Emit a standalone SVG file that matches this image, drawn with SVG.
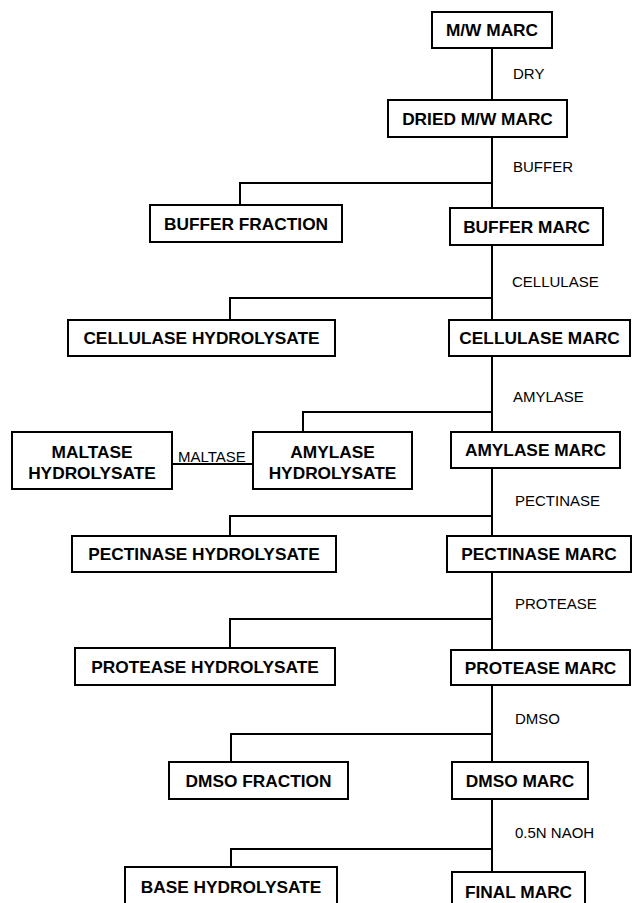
<svg xmlns="http://www.w3.org/2000/svg" width="634" height="903" viewBox="0 0 634 903">
<style>
.box{fill:#fff;stroke:#000;stroke-width:2}
.nt{font-family:"Liberation Sans",Arial,Helvetica,sans-serif;font-weight:bold;font-size:17.3px;text-anchor:middle;fill:#000}
.lb{font-family:"Liberation Sans",Arial,Helvetica,sans-serif;font-size:15px;fill:#000}
.ln{fill:none;stroke:#000;stroke-width:2}
</style>
<rect width="634" height="903" fill="#fff"/>
<g id="connectors">
<path class="ln" d="M492,48V100 M492,137V208 M492,245V320 M492,356V432 M492,468V536 M492,572V650 M492,685V762 M492,799V872"/>
<path class="ln" d="M492,183H240V205 M492,298H230V320 M492,412H303V432 M492,516H230V536 M492,619H230V648 M492,734H231V762 M492,849H231V867"/>
<path class="ln" d="M172,464H253"/>
<text class="lb" x="513" y="79">DRY</text>
<text class="lb" x="513" y="172">BUFFER</text>
<text class="lb" x="512" y="287">CELLULASE</text>
<text class="lb" x="513" y="402">AMYLASE</text>
<text class="lb" x="515" y="506">PECTINASE</text>
<text class="lb" x="515" y="609">PROTEASE</text>
<text class="lb" x="515" y="724">DMSO</text>
<text class="lb" x="515" y="838">0.5N NAOH</text>
<text class="lb" x="178" y="462">MALTASE</text>
</g>
<g id="mw-marc"><rect class="box" x="432" y="12" width="120" height="36"/><text class="nt" x="492" y="36.2">M/W MARC</text></g>
<g id="dried-mw-marc"><rect class="box" x="388" y="100" width="179" height="37"/><text class="nt" x="477.5" y="124.7">DRIED M/W MARC</text></g>
<g id="buffer-fraction"><rect class="box" x="150" y="205" width="192" height="37"/><text class="nt" x="246" y="229.8">BUFFER FRACTION</text></g>
<g id="buffer-marc"><rect class="box" x="450" y="208" width="153" height="37"/><text class="nt" x="526.5" y="232.8">BUFFER MARC</text></g>
<g id="cellulase-hydrolysate"><rect class="box" x="68" y="320" width="267" height="36"/><text class="nt" x="201.5" y="344.3">CELLULASE HYDROLYSATE</text></g>
<g id="cellulase-marc"><rect class="box" x="449" y="320" width="181" height="36"/><text class="nt" x="539.5" y="344.3">CELLULASE MARC</text></g>
<g id="maltase-hydrolysate"><rect class="box" x="12" y="432" width="160" height="57"/><text class="nt" x="92" y="458.3">MALTASE</text><text class="nt" x="92" y="479">HYDROLYSATE</text></g>
<g id="amylase-hydrolysate"><rect class="box" x="253" y="432" width="159" height="57"/><text class="nt" x="332.5" y="458.3">AMYLASE</text><text class="nt" x="332.5" y="479">HYDROLYSATE</text></g>
<g id="amylase-marc"><rect class="box" x="451" y="432" width="169" height="36"/><text class="nt" x="535.5" y="456.3">AMYLASE MARC</text></g>
<g id="pectinase-hydrolysate"><rect class="box" x="72" y="536" width="264" height="36"/><text class="nt" x="204" y="560.3">PECTINASE HYDROLYSATE</text></g>
<g id="pectinase-marc"><rect class="box" x="447" y="536" width="184" height="36"/><text class="nt" x="539" y="560.3">PECTINASE MARC</text></g>
<g id="protease-hydrolysate"><rect class="box" x="75" y="648" width="260" height="37"/><text class="nt" x="205" y="672.8">PROTEASE HYDROLYSATE</text></g>
<g id="protease-marc"><rect class="box" x="451" y="650" width="179" height="35"/><text class="nt" x="540.5" y="673.8">PROTEASE MARC</text></g>
<g id="dmso-fraction"><rect class="box" x="169" y="762" width="179" height="37"/><text class="nt" x="258.5" y="786.8">DMSO FRACTION</text></g>
<g id="dmso-marc"><rect class="box" x="452" y="762" width="136" height="37"/><text class="nt" x="520" y="786.8">DMSO MARC</text></g>
<g id="base-hydrolysate"><rect class="box" x="125" y="867" width="212" height="42"/><text class="nt" x="231" y="893">BASE HYDROLYSATE</text></g>
<g id="final-marc"><rect class="box" x="452" y="872" width="133" height="37"/><text class="nt" x="518.5" y="898">FINAL MARC</text></g>
</svg>
